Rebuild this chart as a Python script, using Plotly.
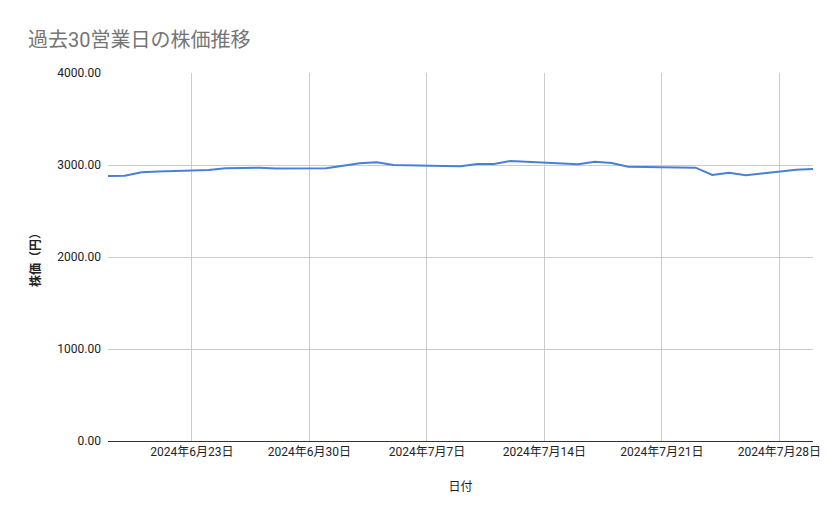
import plotly.graph_objects as go

dates = [
    "2024-06-18", "2024-06-19", "2024-06-20", "2024-06-21",
    "2024-06-24", "2024-06-25", "2024-06-26", "2024-06-27", "2024-06-28",
    "2024-07-01", "2024-07-02", "2024-07-03", "2024-07-04", "2024-07-05",
    "2024-07-08", "2024-07-09", "2024-07-10", "2024-07-11", "2024-07-12",
    "2024-07-15", "2024-07-16", "2024-07-17", "2024-07-18", "2024-07-19",
    "2024-07-22", "2024-07-23", "2024-07-24", "2024-07-25", "2024-07-26",
    "2024-07-29", "2024-07-30",
]
prices = [
    2880, 2884, 2921, 2930,
    2946, 2964, 2967, 2971, 2962,
    2964, 2991, 3019, 3029, 3000,
    2989, 2986, 3011, 3011, 3044,
    3011, 3008, 3036, 3022, 2982,
    2969, 2971, 2891, 2916, 2888,
    2949, 2957,
]
x_tick_vals = ["2024-06-23", "2024-06-30", "2024-07-07", "2024-07-14", "2024-07-21", "2024-07-28"]
x_tick_text = ["2024年6月23日", "2024年6月30日", "2024年7月7日", "2024年7月14日", "2024年7月21日", "2024年7月28日"]
y_tick_vals = [0, 1000, 2000, 3000, 4000]

FONT = "Roboto, 'Noto Sans CJK JP', sans-serif"

fig = go.Figure(go.Scatter(
    x=dates, y=prices, mode="lines",
    line=dict(color="#4a7fd8", width=2),
))

# page body has an 8px margin, so the figure is offset by (8, 8)
W, H = 831, 511
fig.update_layout(
    width=W, height=H,
    margin=dict(l=100, r=26, t=65, b=78),
    paper_bgcolor="white", plot_bgcolor="white",
    showlegend=False,
    font=dict(family=FONT, size=12, color="#222222"),
    title=dict(text="過去30営業日の株価推移", x=20/W, xanchor="left",
               y=1 - 32/H, yanchor="middle",
               font=dict(family=FONT, size=20, color="#757575")),
    xaxis=dict(
        range=[dates[0], dates[-1]],
        tickvals=x_tick_vals, ticktext=x_tick_text,
        showgrid=True, gridcolor="#cccccc", gridwidth=1,
        showline=True, linecolor="#333333", linewidth=1,
        ticks="", tickfont=dict(size=12, color="#222222"),
        title=dict(text="日付", font=dict(size=12, color="#222222"), standoff=24),
        zeroline=False,
    ),
    yaxis=dict(
        range=[0, 4000],
        tickvals=y_tick_vals, tickformat=".2f",
        showgrid=True, gridcolor="#cccccc", gridwidth=1,
        showline=False, zeroline=False,
        ticks="", ticklabelstandoff=6,
        tickfont=dict(size=12, color="#222222"),
        title=dict(text="<b>株価（円）</b>", font=dict(size=12, color="#222222"), standoff=14),
    ),
)

fig.write_html("out.html")
